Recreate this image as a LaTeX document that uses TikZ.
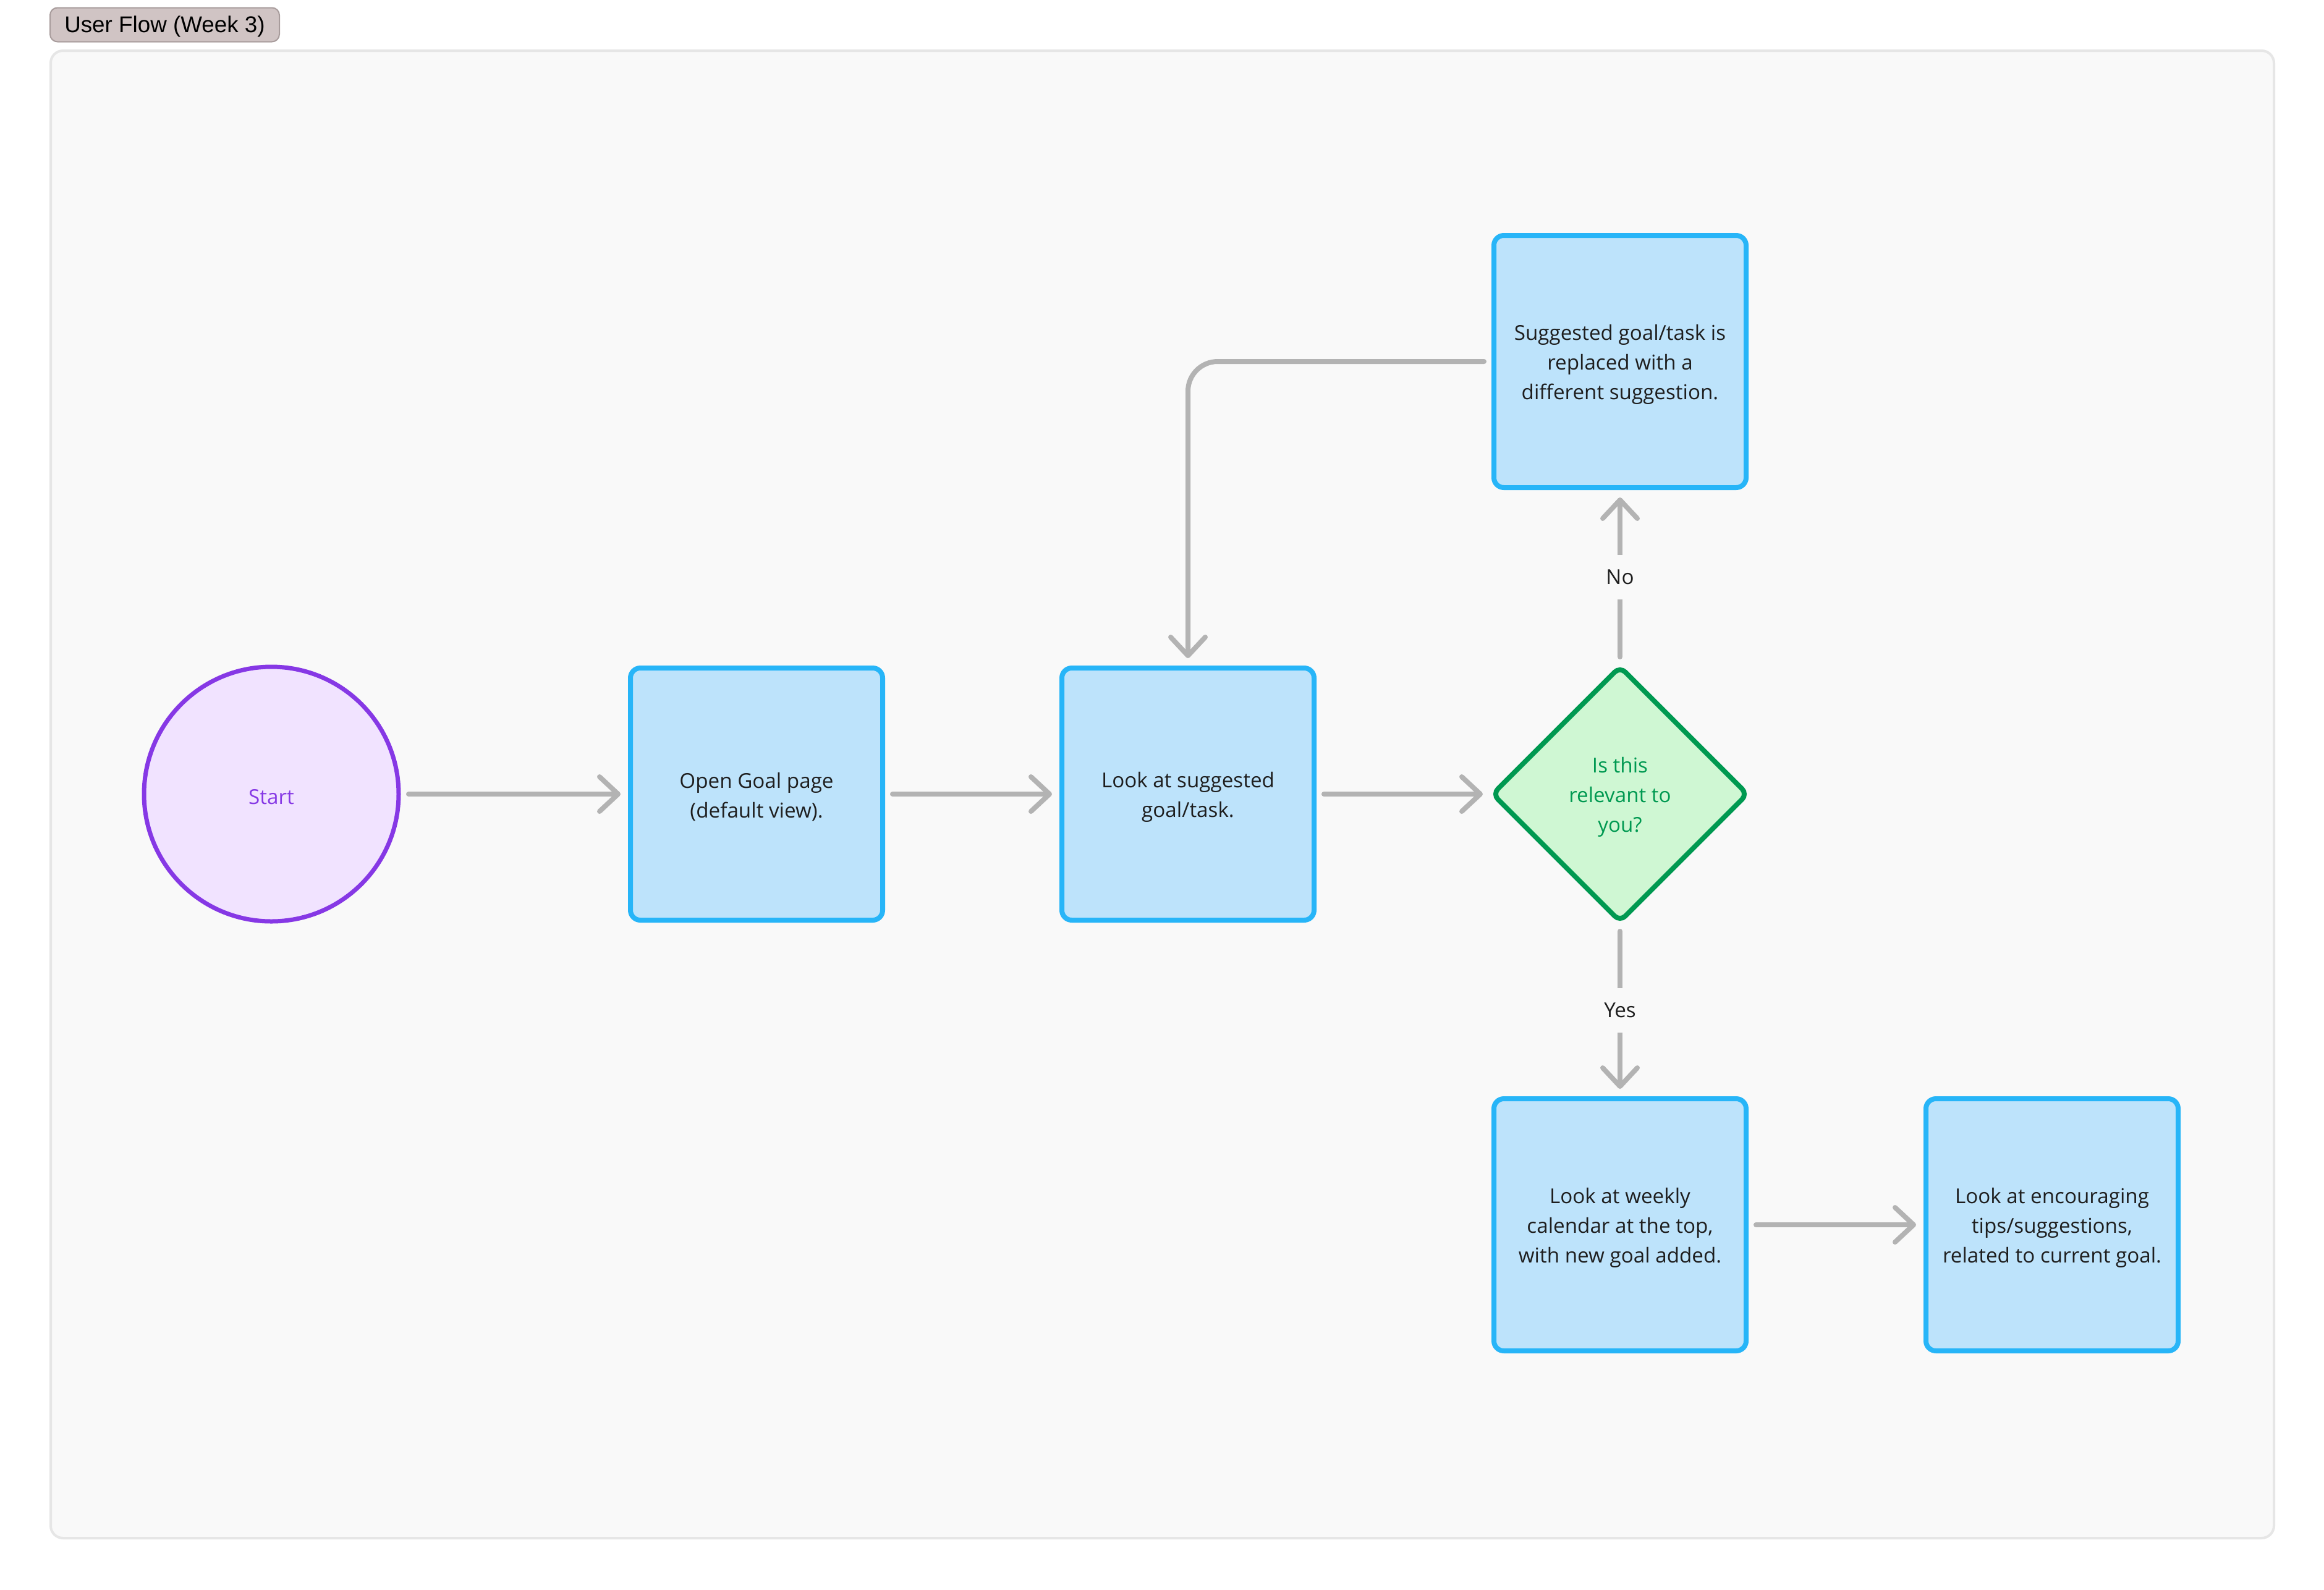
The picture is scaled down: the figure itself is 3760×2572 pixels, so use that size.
\documentclass[tikz,border=0pt]{standalone}
\usepackage{fontspec}
\setmainfont{Open Sans}
\newfontfamily\titlefont{Liberation Sans}
\usetikzlibrary{arrows.meta,shapes.geometric}
\definecolor{boxfill}{HTML}{BDE3FB}
\definecolor{boxline}{HTML}{27B5F8}
\definecolor{dfill}{HTML}{CFF7D3}
\definecolor{dline}{HTML}{009951}
\definecolor{cfill}{HTML}{F1E3FF}
\definecolor{cline}{HTML}{8638E5}
\definecolor{arr}{HTML}{B3B3B3}
\definecolor{txt}{HTML}{1E1E1E}
\definecolor{framebg}{HTML}{F9F9F9}
\definecolor{frameline}{HTML}{E6E6E6}
\definecolor{tagfill}{HTML}{D0C4C4}
\definecolor{tagline}{HTML}{A89C9C}
\newcommand{\nodefont}{\fontsize{8.3}{12}\selectfont}
\begin{document}
\begin{tikzpicture}[x=0.25pt,y=-0.25pt,
  every node/.style={outer sep=0pt},
  stepbox/.style={draw=boxline, fill=boxfill, line width=2pt, rounded corners=4pt,
    minimum width=102pt, minimum height=102pt, inner sep=0pt},
  decide/.style={diamond, aspect=1, draw=dline, fill=dfill, line width=2pt,
    rounded corners=3pt, minimum size=103pt, inner sep=0pt},
  startnode/.style={circle, draw=cline, fill=cfill, line width=1.75pt,
    minimum size=103pt, inner sep=0pt},
  steptext/.style={align=center, font=\nodefont, text=txt, inner sep=0pt, yshift=-1.2pt},
  conn/.style={draw=arr, line width=2pt, line cap=round,
    -{Straight Barb[length=7.5pt,width=14pt,line cap=round,line join=round]},
    shorten <=4pt, shorten >=4pt},
  lbl/.style={fill=framebg, font=\nodefont, text=txt, inner xsep=2pt,
    minimum height=18pt, rounded corners=0pt}
]
\useasboundingbox (0,0) rectangle (3760,2572);
\fill[white] (0,0) rectangle (3760,2572);
% frame
\draw[draw=frameline, fill=framebg, line width=1pt, rounded corners=5pt]
  (82,82) rectangle (3679,2489);
% title tag
\node[draw=tagline, fill=tagfill, rounded corners=3pt, line width=0.5pt,
  minimum width=92.75pt, minimum height=13.75pt, inner sep=0pt,
  text height=6.6pt, text depth=0.3pt,
  font=\titlefont\fontsize{9.2}{11}\selectfont, text=black, anchor=west]
  (title) at (81,40) {User Flow (Week 3)};
% shapes
\node[startnode] (start) at (439,1285) {};
\node[stepbox] (open) at (1224,1285) {};
\node[stepbox] (look) at (1922,1285) {};
\node[decide] (dec) at (2621,1285) {};
\node[stepbox] (rep) at (2621,585) {};
\node[stepbox] (cal) at (2621,1982) {};
\node[stepbox] (tips) at (3320,1982) {};
% texts
\node[steptext, text=cline] (start-t) at (start.center) {Start};
\node[steptext] (open-t) at (open.center) {Open Goal page\\(default view).};
\node[steptext] (look-t) at (look.center) {Look at suggested\\goal/task.};
\node[steptext, text=dline] (dec-t) at (dec.center) {Is this\\relevant to\\you?};
\node[steptext] (rep-t) at (rep.center) {Suggested goal/task is\\replaced with a\\different suggestion.};
\node[steptext] (cal-t) at (cal.center) {Look at weekly\\calendar at the top,\\with new goal added.};
\node[steptext] (tips-t) at (tips.center) {Look at encouraging\\tips/suggestions,\\related to current goal.};
% connectors
\draw[conn] (start) -- (open);
\draw[conn] (open) -- (look);
\draw[conn] (look) -- (dec);
\draw[conn] (dec.north) -- node[lbl] {No} (rep.south);
\draw[conn] (dec.south) -- node[lbl] {Yes} (cal.north);
\draw[conn] (cal) -- (tips);
\draw[conn, rounded corners=12pt] (rep.west) -| (look.north);
\end{tikzpicture}
\end{document}
